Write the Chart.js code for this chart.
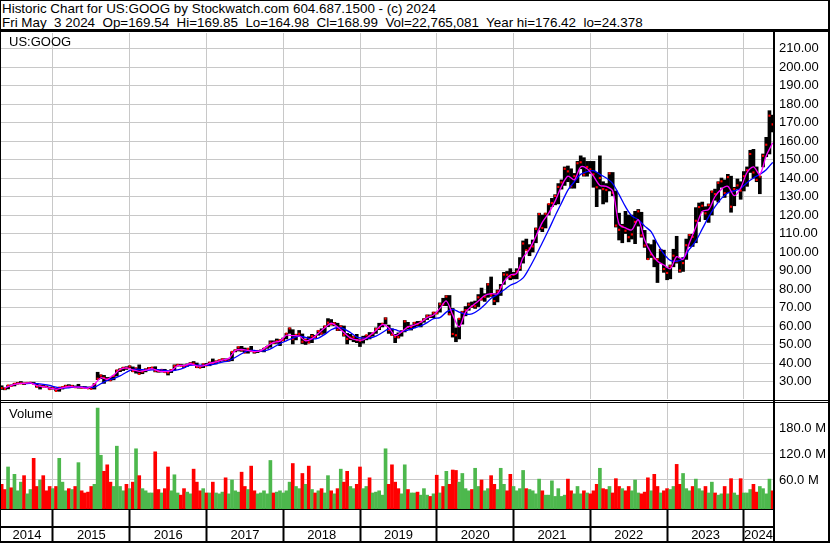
<!DOCTYPE html>
<html>
<head>
<meta charset="utf-8">
<script src="https://cdn.jsdelivr.net/npm/chart.js@4.4.1/dist/chart.umd.min.js"></script>
<style>
  html, body { margin: 0; padding: 0; background: #fff; }
  #page { position: relative; width: 830px; height: 543px; overflow: hidden;
          font-family: "Liberation Sans", Arial, sans-serif; color: #000; }
  .ln { position: absolute; background: #000; }
  .txt { position: absolute; white-space: pre; }
  canvas { position: absolute; }
</style>
</head>
<body>
<div id="page">
  <div class="txt" style="left:2px;top:2px;font-size:13.4px;line-height:14px;">Historic Chart for US:GOOG by Stockwatch.com 604.687.1500 - (c) 2024
Fri May  3 2024  Op=169.54  Hi=169.85  Lo=164.98  Cl=168.99  Vol=22,765,081  Year hi=176.42  lo=24.378</div>

  <canvas id="price" width="827" height="366" style="left:1px;top:33px;"></canvas>
  <canvas id="volume" width="827" height="138" style="left:1px;top:403px;"></canvas>

  <div class="txt" style="left:9px;top:35px;font-size:13px;line-height:13px;">US:GOOG</div>
  <div class="txt" style="left:9px;top:407px;font-size:13px;line-height:13px;">Volume</div>

  <!-- frame -->
  <div class="ln" style="left:0;top:0;width:830px;height:1px;"></div>
  <div class="ln" style="left:0;top:0;width:1px;height:543px;"></div>
  <div class="ln" style="left:828px;top:0;width:2px;height:543px;"></div>
  <div class="ln" style="left:0;top:541px;width:830px;height:2px;"></div>
  <div class="ln" style="left:0;top:29px;width:830px;height:3px;"></div>
  <div class="ln" style="left:773px;top:31px;width:2px;height:512px;"></div>
  <div class="ln" style="left:0;top:400px;width:830px;height:1px;"></div>
  <div class="ln" style="left:0;top:402px;width:830px;height:1px;"></div>
  <div class="ln" style="left:0;top:526px;width:773px;height:2px;"></div>
</div>

<script>
// half-month slots from early Apr 2014 to early May 2024
const T0 = 2014.29;
const slotT = i => T0 + i / 24;
const monthT = j => T0 + j / 12;

const X_MIN = 2014.323;
const X_MAX = 2024.378;

const priceLow = [
  26.5, 25.7, 25.5, 26.0, 27.5, 27.6, 28.6, 29.0, 28.3, 28.9, 29.0, 28.6, 26.9, 25.9, 27.1, 26.8, 25.8, 25.9,
  24.9, 24.7, 25.9, 26.9, 27.0, 27.0, 26.8, 26.4, 26.4, 26.5, 26.2, 26.0, 25.9, 31.0, 31.5, 29.0, 30.4, 30.5, 30.9, 33.0, 35.3, 35.9, 36.5, 37.3,
  35.4, 34.5, 34.0, 34.2, 35.2, 36.5, 36.8, 35.2, 35.0, 35.1, 35.0, 33.5, 34.8, 36.0, 38.3, 38.5, 37.5, 38.2, 38.9, 39.4, 37.5, 37.4, 37.5, 38.6,
  38.5, 39.8, 39.5, 40.5, 41.0, 40.9, 41.0, 41.2, 46.0, 46.5, 46.3, 45.5, 45.3, 46.1, 45.3, 45.6, 46.2, 46.0, 47.9, 48.5, 50.5, 50.6, 49.4, 52.0,
  53.0, 56.0, 50.3, 52.5, 54.5, 50.5, 50.0, 50.8, 51.0, 53.5, 55.0, 55.5, 56.0, 59.6, 60.5, 60.2, 57.5, 57.6, 54.5, 50.3, 52.5, 51.5, 51.0, 48.9,
  50.7, 52.5, 53.0, 54.5, 56.0, 58.0, 59.5, 61.0, 56.0, 55.0, 51.0, 53.5, 54.5, 56.8, 58.3, 57.8, 59.0, 60.0, 59.5, 62.0, 63.5, 64.5, 64.5, 66.5,
  67.5, 71.0, 71.0, 66.0, 54.0, 51.5, 53.0, 61.0, 65.5, 68.5, 70.0, 69.5, 70.5, 74.0, 73.3, 75.5, 76.0, 71.5, 73.0, 76.5, 82.5, 86.0, 85.0, 85.5,
  85.5, 90.0, 94.0, 101.0, 98.0, 100.0, 105.0, 112.0, 111.0, 113.0, 120.0, 124.5, 125.5, 126.0, 134.0, 136.0, 138.0, 134.5, 134.5, 137.5, 145.0, 141.0, 141.0, 142.5,
  135.0, 124.5, 134.0, 126.0, 127.0, 133.0, 130.5, 113.5, 106.5, 105.0, 110.0, 105.5, 107.0, 104.5, 114.0, 108.0, 102.5, 96.0, 97.0, 92.0, 83.5, 94.0, 89.0, 85.0,
  85.5, 92.0, 94.0, 89.0, 89.5, 96.0, 103.0, 103.0, 105.0, 116.5, 122.0, 117.5, 116.0, 120.0, 128.0, 127.0, 135.0, 129.5, 132.0, 121.5, 125.0, 134.0, 128.5, 133.0,
  135.5, 143.0, 140.0, 138.0, 131.5, 146.0, 151.5, 153.0, 164.9
];
const priceHigh = [
  28.5, 27.7, 26.6, 28.0, 28.2, 29.0, 29.5, 30.0, 29.2, 29.4, 29.6, 29.6, 28.8, 27.8, 27.9, 27.6, 27.0, 27.0,
  26.4, 26.8, 27.2, 28.0, 28.3, 28.0, 27.6, 28.5, 27.2, 27.3, 27.0, 27.0, 28.9, 35.0, 33.6, 33.3, 32.2, 32.3, 33.2, 36.2, 36.9, 37.7, 38.0, 38.5,
  37.9, 37.3, 39.0, 35.9, 36.9, 37.6, 37.7, 38.0, 36.0, 36.5, 36.6, 35.2, 36.5, 39.0, 39.2, 39.3, 39.0, 39.5, 40.2, 40.8, 40.0, 38.6, 39.5, 39.8,
  40.5, 42.2, 41.1, 41.6, 42.3, 42.3, 42.2, 46.1, 47.1, 48.8, 49.0, 48.1, 47.7, 49.0, 46.6, 46.7, 47.1, 48.0, 49.0, 52.0, 52.0, 53.0, 52.6, 53.5,
  56.0, 59.0, 58.0, 55.5, 57.6, 55.7, 53.0, 54.2, 55.5, 55.0, 57.5, 58.5, 60.0, 64.0, 63.5, 62.0, 61.5, 60.2, 60.0, 56.0, 55.5, 54.5, 55.5, 53.0,
  54.5, 55.0, 56.5, 56.3, 59.0, 61.5, 61.5, 64.5, 60.5, 58.5, 55.5, 56.3, 57.5, 63.0, 62.0, 60.5, 62.0, 62.5, 62.5, 64.0, 66.0, 66.0, 67.5, 67.5,
  72.5, 75.0, 76.5, 76.5, 69.5, 59.0, 64.0, 68.0, 70.5, 72.5, 73.0, 73.5, 77.0, 80.5, 77.5, 83.0, 86.5, 77.5, 79.5, 82.5, 89.0, 89.5, 91.0, 89.0,
  91.0, 97.0, 106.0, 107.0, 104.0, 106.5, 113.0, 121.0, 120.0, 121.0, 126.0, 129.0, 131.0, 137.0, 139.0, 146.0, 146.5, 145.0, 142.5, 149.0, 152.0, 151.0, 149.0, 149.0,
  149.0, 143.0, 152.0, 138.0, 137.0, 143.0, 143.0, 133.0, 121.0, 115.0, 122.0, 120.0, 120.0, 122.0, 123.0, 121.5, 111.7, 104.5, 104.0, 106.5, 96.5, 101.5, 101.0, 91.5,
  93.0, 101.5, 108.5, 96.5, 97.0, 107.0, 109.5, 109.6, 124.0, 126.5, 127.0, 124.5, 126.0, 133.0, 134.0, 138.0, 140.0, 139.0, 142.0, 141.0, 135.0, 139.5, 138.0, 143.5,
  146.0, 155.0, 155.5, 146.0, 141.0, 153.0, 162.0, 176.4, 174.0
];
const priceClose = [
  27.0, 26.5, 26.0, 27.8, 27.6, 28.8, 29.0, 29.0, 28.9, 29.2, 29.3, 28.8, 27.2, 27.8, 27.2, 27.1, 25.9, 26.4,
  24.9, 26.7, 27.0, 27.6, 27.3, 27.5, 26.9, 27.0, 26.7, 26.6, 26.3, 26.0, 28.5, 31.5, 33.2, 32.0, 31.2, 30.6, 33.0, 35.9, 36.5, 37.4, 37.3, 38.1,
  35.6, 37.1, 34.1, 35.3, 36.5, 37.2, 37.5, 35.8, 35.6, 36.3, 35.1, 34.8, 36.2, 38.4, 39.0, 38.5, 38.2, 38.9, 39.8, 39.7, 37.8, 37.5, 39.3, 38.6,
  40.2, 39.8, 40.8, 41.5, 42.0, 41.3, 41.3, 46.0, 46.9, 48.5, 47.0, 45.6, 47.7, 46.5, 45.9, 46.5, 46.5, 47.8, 48.9, 51.0, 50.9, 51.8, 52.3, 52.3,
  55.9, 58.7, 52.9, 55.2, 55.8, 51.5, 52.4, 51.1, 54.5, 54.0, 57.3, 56.0, 59.8, 61.8, 61.0, 61.5, 58.0, 59.7, 55.2, 53.0, 53.7, 54.1, 52.4, 52.0,
  53.3, 55.0, 54.5, 56.0, 58.3, 58.9, 61.2, 64.0, 57.8, 55.3, 54.2, 54.0, 57.0, 62.5, 59.5, 59.5, 61.7, 61.0, 62.3, 63.5, 65.5, 65.3, 67.2, 66.9,
  71.8, 71.7, 75.9, 66.4, 55.7, 55.0, 63.9, 67.5, 68.6, 71.6, 70.7, 70.7, 75.5, 74.4, 75.8, 82.5, 76.7, 73.5, 78.7, 81.0, 87.8, 87.7, 86.5, 87.6,
  89.4, 91.4, 104.6, 101.0, 102.0, 103.0, 112.5, 120.5, 113.0, 120.7, 125.9, 126.5, 130.3, 135.2, 137.6, 145.0, 143.6, 135.5, 141.0, 148.0, 148.5, 141.8, 146.0, 144.7,
  142.0, 135.0, 140.0, 134.0, 133.5, 142.5, 132.0, 114.3, 112.0, 113.8, 111.5, 108.0, 109.5, 116.3, 122.0, 109.0, 103.5, 96.2, 98.7, 96.5, 96.0, 101.0, 90.8, 88.7,
  92.3, 98.0, 95.0, 90.0, 94.0, 103.7, 109.2, 108.2, 116.9, 124.3, 125.0, 120.9, 125.4, 132.6, 131.3, 137.4, 138.2, 131.9, 140.5, 124.5, 134.0, 136.0, 133.2, 141.0,
  144.2, 153.0, 143.0, 139.0, 140.8, 152.0, 158.0, 173.7, 169.0
];

// monthly moving averages, Apr 2014 .. May 2024
const maShort = [
  null, 26.6, 27.8, 28.9, 29.0, 29.2, 27.8, 27.2, 26.5,
  25.8, 26.6, 27.3, 27.0, 26.8, 26.4, 28.5, 32.0, 31.2, 33.5, 36.5, 37.4,
  36.3, 35.5, 36.0, 37.0, 35.6, 35.3, 35.8, 38.6, 38.6, 39.6, 38.5, 38.5,
  39.8, 40.6, 41.6, 42.5, 46.7, 47.3, 46.8, 46.2, 46.7, 49.0, 51.2, 51.8,
  55.0, 54.8, 54.6, 52.0, 53.2, 56.0, 59.0, 61.5, 59.5, 56.5, 53.5, 52.5,
  52.5, 54.8, 57.6, 60.8, 59.0, 54.8, 56.8, 59.5, 60.5, 62.0, 64.5, 66.0,
  69.5, 73.5, 66.0, 59.5, 67.5, 70.8, 73.5, 76.5, 77.5, 77.5, 84.0, 87.5,
  88.5, 97.0, 101.5, 108.5, 116.0, 121.0, 127.5, 135.5, 141.0, 139.0, 146.0, 145.0,
  141.0, 136.0, 135.5, 133.0, 115.0, 113.0, 112.0, 117.5, 106.5, 99.5, 95.0, 93.0,
  91.0, 97.5, 96.0, 105.0, 113.5, 122.0, 123.0, 130.0, 134.0, 135.5, 130.5, 134.5,
  143.0, 146.0, 142.0, 152.0, 159.0
];
const maLong = [
  null, null, null, null, 28.8, 29.0, 28.9, 28.5, 27.9,
  26.9, 26.4, 26.6, 27.0, 27.0, 26.8, 26.9, 28.8, 30.6, 31.6, 33.0, 35.0,
  36.5, 36.6, 36.1, 36.3, 36.4, 36.0, 35.6, 36.3, 37.4, 38.8, 38.9, 38.7,
  38.9, 39.6, 40.5, 41.2, 43.0, 45.0, 46.7, 46.8, 46.4, 46.9, 48.5, 50.5,
  52.0, 53.5, 54.5, 53.8, 53.0, 53.5, 55.5, 58.0, 59.2, 58.5, 56.5, 54.0,
  53.5, 53.5, 54.5, 56.5, 58.5, 58.0, 57.0, 57.8, 59.0, 60.0, 61.8, 64.0,
  64.5, 67.5, 69.0, 67.5, 66.5, 66.5, 68.5, 71.5, 75.0, 77.0, 79.5, 82.0,
  83.5, 86.0, 91.5, 98.0, 105.0, 112.0, 119.5, 126.5, 133.5, 138.0, 142.0, 143.5,
  144.0, 142.0, 140.0, 137.0, 131.0, 124.5, 119.5, 117.5, 114.0, 111.0, 104.5, 99.0,
  95.5, 95.0, 96.5, 101.5, 106.0, 112.5, 119.0, 124.5, 129.0, 132.0, 133.0, 134.5,
  137.5, 140.0, 142.0, 144.5, 148.5
];

// volume in millions, same half-month slots
const volume = [
  80, 50, 38, 90, 42, 73, 35, 55, 70, 28, 38, 110, 45, 60, 70, 35, 45, 40,
  45, 110, 55, 35, 40, 38, 45, 100, 35, 30, 32, 45, 50, 226, 117, 80, 95, 55, 45, 138, 45, 35, 50, 40,
  55, 132, 70, 40, 35, 30, 30, 125, 38, 30, 40, 90, 35, 72, 30, 25, 40, 32, 28, 85, 55, 35, 40, 30,
  30, 55, 30, 28, 32, 65, 28, 60, 35, 32, 78, 45, 38, 92, 35, 28, 30, 35, 28, 105, 30, 32, 35, 30,
  35, 55, 98, 45, 40, 75, 50, 92, 38, 30, 35, 40, 30, 70, 35, 28, 40, 85, 55, 80, 45, 40, 50, 90,
  40, 45, 65, 30, 32, 35, 25, 132, 50, 95, 55, 40, 28, 95, 38, 30, 30, 32, 25, 40, 25, 22, 28, 71,
  30, 45, 80, 50, 83, 82, 55, 75, 40, 35, 38, 87, 45, 60, 35, 40, 70, 50, 38, 87, 50, 35, 73, 45,
  35, 40, 82, 40, 38, 35, 28, 62, 35, 25, 25, 58, 22, 40, 22, 25, 62, 35, 28, 45, 28, 35, 30, 28,
  35, 50, 87, 40, 38, 45, 30, 63, 45, 40, 35, 45, 35, 60, 30, 28, 32, 65, 35, 73, 45, 30, 35, 40,
  38, 45, 96, 50, 75, 40, 35, 45, 62, 40, 35, 45, 30, 55, 30, 25, 28, 45, 28, 63, 30, 25, 63, 30,
  30, 38, 50, 32, 45, 40, 28, 62, 35
];

const priceTicks = [30, 40, 50, 60, 70, 80, 90, 100, 110, 120, 130, 140, 150, 160, 170, 180, 190, 200, 210];
const volumeTicks = [60, 120, 180];
const yearBounds = [2015, 2016, 2017, 2018, 2019, 2020, 2021, 2022, 2023, 2024];
const yearLabels = ['2014', '2015', '2016', '2017', '2018', '2019', '2020', '2021', '2022', '2023', '2024'];

const gridGray = '#c8c8c8';
const axisFont = { family: '"Liberation Sans", Arial, sans-serif', size: 13 };

// year labels sit midway between the year boundaries
const yearMarks = yearBounds.map(v => ({ value: v, label: '' }));
yearLabels.forEach((lab, k) => {
  const a = k === 0 ? X_MIN : yearBounds[k - 1];
  const b = k === yearLabels.length - 1 ? X_MAX : yearBounds[k];
  yearMarks.push({ value: (a + b) / 2, label: lab });
});
yearMarks.sort((p, q) => p.value - q.value);

const isBound = tick => tick && Number.isInteger(tick.value);

const rightAxis = (min, max, ticks, fmt) => ({
  position: 'right',
  min: min,
  max: max,
  bounds: 'data',
  afterBuildTicks: s => { s.ticks = ticks.map(v => ({ value: v })); },
  afterFit: s => { s.width = 55; s.paddingTop = 0; s.paddingBottom = 0; },
  ticks: { font: axisFont, color: '#000', padding: 6, autoSkip: false, callback: fmt },
  grid: { color: gridGray, lineWidth: 1, drawTicks: false },
  border: { display: false }
});

const baseOptions = {
  responsive: false,
  animation: false,
  events: [],
  layout: { padding: 0, autoPadding: false },
  plugins: { legend: { display: false }, tooltip: { enabled: false } }
};

new Chart(document.getElementById('price'), {
  type: 'bar',
  data: {
    datasets: [
      {
        type: 'line',
        data: maShort.map((v, j) => ({ x: monthT(j), y: v })),
        borderColor: '#ff00ff',
        borderWidth: 1.3,
        pointRadius: 0,
        tension: 0.3,
        order: 0
      },
      {
        type: 'line',
        data: maLong.map((v, j) => ({ x: monthT(j), y: v })),
        borderColor: '#0000ff',
        borderWidth: 1.3,
        pointRadius: 0,
        tension: 0.3,
        order: 0
      },
      {
        type: 'line',
        data: priceClose.map((v, i) => ({ x: slotT(i), y: v })),
        showLine: false,
        pointStyle: 'rect',
        pointRadius: 1.5,
        pointBackgroundColor: '#ff0000',
        pointBorderWidth: 0,
        order: 1
      },
      {
        type: 'bar',
        data: priceLow.map((lo, i) => ({ x: slotT(i), y: [lo, priceHigh[i]] })),
        backgroundColor: '#000',
        barThickness: 3,
        order: 2
      }
    ]
  },
  options: {
    ...baseOptions,
    scales: {
      x: {
        type: 'linear',
        min: X_MIN,
        max: X_MAX,
        offset: false,
        bounds: 'data',
        afterBuildTicks: s => { s.ticks = yearBounds.map(v => ({ value: v })); },
        afterFit: s => { s.height = 0; s.paddingLeft = 0; s.paddingRight = 0; },
        ticks: { display: false },
        grid: { color: gridGray, lineWidth: 1, drawTicks: false, offset: false },
        border: { display: false }
      },
      y: rightAxis(20.54, 218.4, priceTicks, v => v.toFixed(2))
    }
  }
});

const volColors = priceClose.map((c, i) => (i === 0 || c >= priceClose[i - 1]) ? '#4db84d' : '#ff0000');

new Chart(document.getElementById('volume'), {
  type: 'bar',
  data: {
    datasets: [{
      data: volume.map((v, i) => ({ x: slotT(i), y: v })),
      backgroundColor: volColors,
      base: -7,
      barThickness: 3
    }]
  },
  options: {
    ...baseOptions,
    scales: {
      x: {
        type: 'linear',
        min: X_MIN,
        max: X_MAX,
        offset: false,
        bounds: 'data',
        afterBuildTicks: s => { s.ticks = yearMarks.map(m => ({ value: m.value })); },
        afterFit: s => { s.height = 32; s.paddingLeft = 0; s.paddingRight = 0; },
        ticks: {
          font: axisFont,
          color: '#000',
          padding: -13.5,
          autoSkip: false,
          maxRotation: 0,
          callback: (v, i) => yearMarks[i] ? yearMarks[i].label : ''
        },
        grid: {
          color: c => isBound(c.tick) ? gridGray : 'rgba(0,0,0,0)',
          tickColor: c => isBound(c.tick) ? '#000' : 'rgba(0,0,0,0)',
          lineWidth: 1,
          tickLength: 32,
          tickWidth: 2,
          offset: false
        },
        border: { display: true, color: '#000', width: 2 }
      },
      y: rightAxis(-7, 237.7, volumeTicks, v => v.toFixed(1) + ' M')
    }
  }
});
</script>
</body>
</html>
